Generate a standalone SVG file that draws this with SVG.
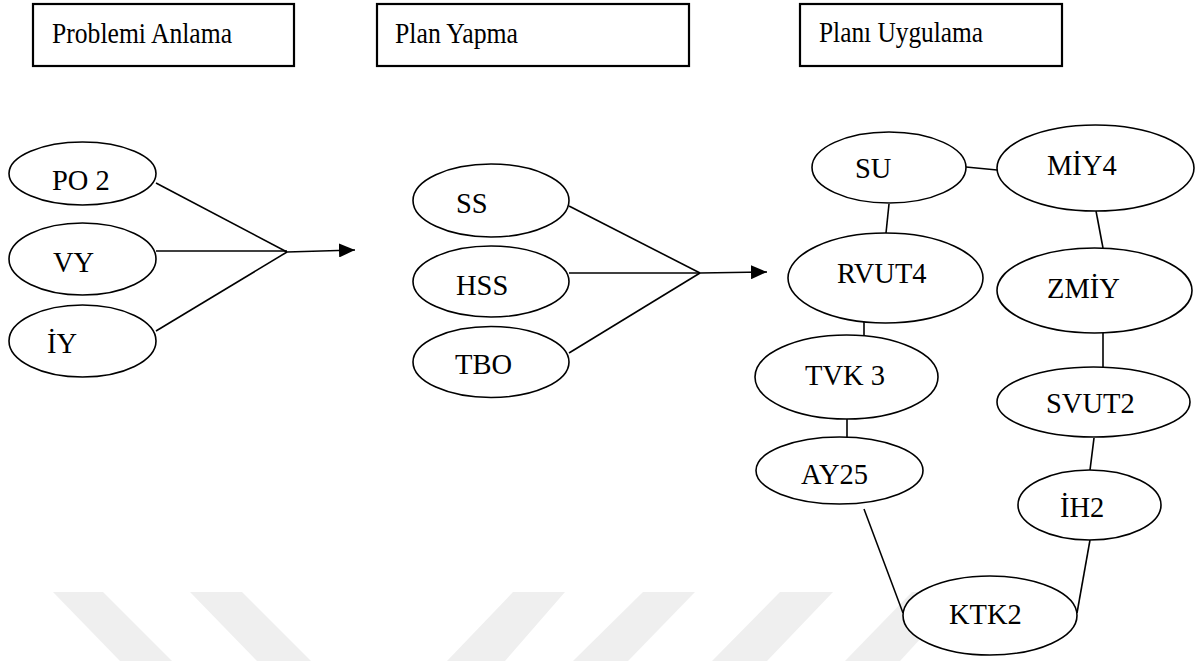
<svg xmlns="http://www.w3.org/2000/svg" width="1198" height="661" viewBox="0 0 1198 661">
<style>
.box{fill:#fff;stroke:#000;stroke-width:2.2}
.node ellipse{fill:#fff;stroke:#000;stroke-width:1.6}
.t{font-family:"Times New Roman",Times,"Liberation Serif","Nimbus Roman","Noto Serif","DejaVu Serif",FreeSerif,serif;font-size:28.5px;fill:#000}
.ln{stroke:#000;stroke-width:1.6;fill:none}
.wm{fill:#efefef}
</style>
<defs>
<marker id="ah" markerUnits="userSpaceOnUse" markerWidth="16" markerHeight="14" refX="16" refY="7" orient="auto">
<path d="M0,0 L16,7 L0,14 z" fill="#000"/>
</marker>
</defs>
<rect width="1198" height="661" fill="#fff"/>
<g id="watermark">
<polygon class="wm" points="53,592 103,592 172,661 120,661"/>
<polygon class="wm" points="190,592 242,592 311,661 257,661"/>
<polygon class="wm" points="513,592 565,592 505,661 447,661"/>
<polygon class="wm" points="643,592 695,592 628,661 573,661"/>
<polygon class="wm" points="780,592 833,592 767,661 712,661"/>
<polygon class="wm" points="912,592 963,592 900,661 845,661"/>
</g>
<g id="header1"><rect class="box" x="33" y="4" width="261" height="62"/><text class="t" x="52" y="43" textLength="180" lengthAdjust="spacingAndGlyphs">Problemi Anlama</text></g>
<g id="header2"><rect class="box" x="377" y="4" width="312" height="62"/><text class="t" x="395" y="43" textLength="123" lengthAdjust="spacingAndGlyphs">Plan Yapma</text></g>
<g id="header3"><rect class="box" x="800" y="4" width="262" height="62"/><text class="t" x="819" y="42" textLength="164" lengthAdjust="spacingAndGlyphs">Planı Uygulama</text></g>
<g id="connectors">
<line class="ln" x1="156" y1="183" x2="287" y2="252"/>
<line class="ln" x1="156" y1="251" x2="287" y2="251"/>
<line class="ln" x1="156" y1="331" x2="287" y2="252"/>
<line class="ln" x1="287" y1="252" x2="355" y2="250" marker-end="url(#ah)"/>
<line class="ln" x1="569" y1="206" x2="700" y2="273"/>
<line class="ln" x1="569" y1="273" x2="700" y2="273"/>
<line class="ln" x1="569" y1="353" x2="700" y2="273"/>
<line class="ln" x1="700" y1="273" x2="767" y2="272" marker-end="url(#ah)"/>
<line class="ln" x1="966" y1="167" x2="997" y2="170"/>
<line class="ln" x1="889" y1="204" x2="886" y2="233"/>
<line class="ln" x1="1096" y1="211" x2="1103" y2="248"/>
<line class="ln" x1="864" y1="316" x2="864" y2="339"/>
<line class="ln" x1="847" y1="419" x2="847" y2="437"/>
<line class="ln" x1="1103" y1="333" x2="1103" y2="367"/>
<line class="ln" x1="1094" y1="438" x2="1090" y2="470"/>
<line class="ln" x1="864" y1="509" x2="903" y2="613"/>
<line class="ln" x1="1090" y1="540" x2="1077" y2="613"/>
</g>
<g id="PO2" class="node"><ellipse cx="82.5" cy="173.5" rx="73.5" ry="31.5"/><text class="t" x="52" y="190">PO 2</text></g>
<g id="VY" class="node"><ellipse cx="82.5" cy="259" rx="73.5" ry="36"/><text class="t" x="53" y="272">VY</text></g>
<g id="IY" class="node"><ellipse cx="82.5" cy="341" rx="73.5" ry="36"/><text class="t" x="47" y="353">İY</text></g>
<g id="SS" class="node"><ellipse cx="491" cy="200.5" rx="78" ry="36.5"/><text class="t" x="456" y="213">SS</text></g>
<g id="HSS" class="node"><ellipse cx="491" cy="281.5" rx="78" ry="35.5"/><text class="t" x="456" y="295">HSS</text></g>
<g id="TBO" class="node"><ellipse cx="491" cy="362" rx="78" ry="35.5"/><text class="t" x="455" y="374">TBO</text></g>
<g id="SU" class="node"><ellipse cx="889" cy="167.5" rx="77" ry="35.5"/><text class="t" x="855" y="178">SU</text></g>
<g id="MIY4" class="node"><ellipse cx="1095.5" cy="168" rx="98.5" ry="43"/><text class="t" x="1047" y="175">MİY4</text></g>
<g id="RVUT4" class="node"><ellipse cx="885.5" cy="278" rx="97.5" ry="45"/><text class="t" x="837" y="283">RVUT4</text></g>
<g id="ZMIY" class="node"><ellipse cx="1094.5" cy="290.5" rx="97.5" ry="42.5"/><text class="t" x="1047" y="298">ZMİY</text></g>
<g id="TVK3" class="node"><ellipse cx="846.5" cy="377" rx="91.5" ry="42"/><text class="t" x="805" y="385">TVK 3</text></g>
<g id="SVUT2" class="node"><ellipse cx="1093.5" cy="402" rx="96.5" ry="35"/><text class="t" x="1046" y="413">SVUT2</text></g>
<g id="AY25" class="node"><ellipse cx="839.5" cy="470.5" rx="83.5" ry="33.5"/><text class="t" x="801" y="484">AY25</text></g>
<g id="IH2" class="node"><ellipse cx="1089.5" cy="505" rx="71.5" ry="35"/><text class="t" x="1060" y="517">İH2</text></g>
<g id="KTK2" class="node"><ellipse cx="990" cy="615.5" rx="87" ry="39.5"/><text class="t" x="949" y="624">KTK2</text></g>
</svg>
